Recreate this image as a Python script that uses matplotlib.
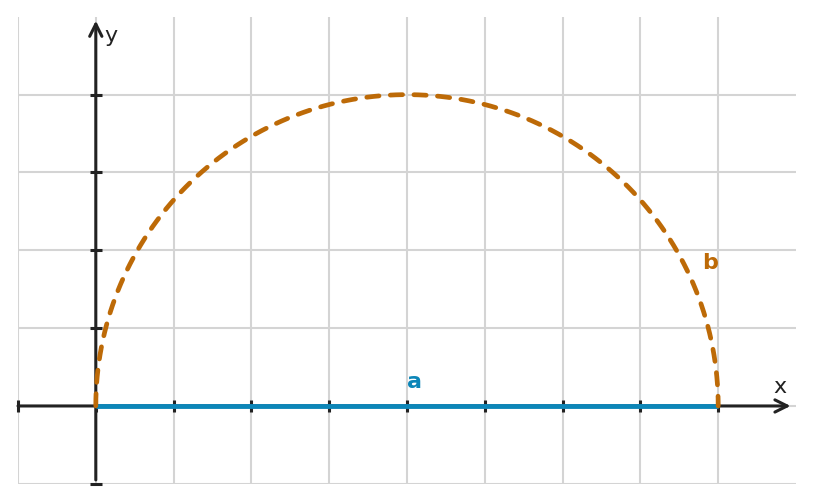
import matplotlib.pyplot as plt
import numpy as np

# grid / axis ranges
x_min, x_max = -1, 9
y_min, y_max = -1, 5
x_ticks = [-1, 0, 1, 2, 3, 4, 5, 6, 7, 8]
y_ticks = [-1, 1, 2, 3, 4]

# segment a and semicircle b
a_start = (0, 0)
a_end = (8, 0)
b_center = (4, 0)
b_radius = 4

axis_col = '#222222'
grid_col = '#d4d4d4'
blue = '#0c86b8'
orange = '#bd6a07'

fig = plt.figure(figsize=(8.13, 5.02), dpi=100)
ax = fig.add_axes([18 / 813, 17.2 / 502, 778 / 813, 467 / 502])
ax.set_xlim(x_min, x_max)
ax.set_ylim(y_min, y_max)
for s in ax.spines.values():
    s.set_visible(False)
ax.set_xticks([])
ax.set_yticks([])

# grid (no line on the top and right borders)
for gx in range(x_min, x_max):
    ax.axvline(gx, color=grid_col, lw=1.5, zorder=0)
for gy in range(y_min, y_max):
    ax.axhline(gy, color=grid_col, lw=1.5, zorder=0)

# axes with arrows
ax.annotate('', xy=(8.93, 0), xytext=(x_min, 0),
            arrowprops=dict(arrowstyle='->', color=axis_col, lw=2.2,
                            mutation_scale=22, shrinkA=0, shrinkB=0), zorder=2)
ax.annotate('', xy=(0, 4.95), xytext=(0, y_min + 0.05),
            arrowprops=dict(arrowstyle='->', color=axis_col, lw=2.2,
                            mutation_scale=22, shrinkA=0, shrinkB=0), zorder=2)

# tick marks
ax.plot(x_ticks, np.zeros(len(x_ticks)), ls='', marker='|', ms=9, mew=2.2,
        color=axis_col, zorder=3, clip_on=False)
ax.plot(np.zeros(len(y_ticks)), y_ticks, ls='', marker='_', ms=9, mew=2.2,
        color=axis_col, zorder=3, clip_on=False)

# segment a
ax.plot([a_start[0], a_end[0]], [a_start[1], a_end[1]], color=blue, lw=3.5,
        solid_capstyle='butt', zorder=4)

# semicircle b
t = np.linspace(np.pi, 0, 400)
bx = b_center[0] + b_radius * np.cos(t)
by = b_center[1] + b_radius * np.sin(t)
ax.plot(bx, by, color=orange, lw=3.4, ls=(0, (2.6, 2.4)),
        dash_capstyle='round', zorder=5)

# labels
ax.text(4.09, 0.32, 'a', color=blue, fontsize=16, fontweight='bold',
        ha='center', va='center')
ax.text(7.89, 1.85, 'b', color=orange, fontsize=16, fontweight='bold',
        ha='center', va='center')
ax.text(8.79, 0.26, 'x', color=axis_col, fontsize=16, ha='center', va='center')
ax.text(0.19, 4.76, 'y', color=axis_col, fontsize=16, ha='center', va='center')

fig.savefig('out.png', dpi=100)
